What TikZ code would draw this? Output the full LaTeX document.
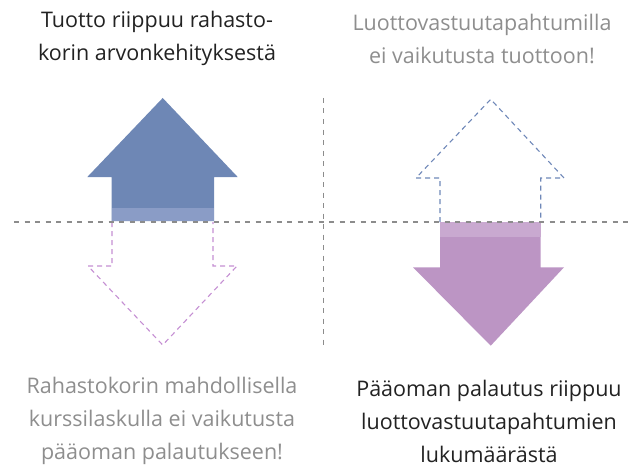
\documentclass[tikz,border=0pt]{standalone}
\usepackage{fontspec}
\setmainfont{Open Sans}
\definecolor{upblue}{HTML}{6E87B5}
\definecolor{upbluel}{HTML}{8A9CC6}
\definecolor{dnpurp}{HTML}{BC95C4}
\definecolor{dnpurpl}{HTML}{C9A9D0}
\definecolor{dashpurp}{HTML}{C58FD3}
\definecolor{dashblue}{HTML}{6F88B8}
\definecolor{axisgrey}{HTML}{8C8C8C}
\definecolor{txtdark}{HTML}{222222}
\definecolor{txtgrey}{HTML}{8E8E8E}
\begin{document}
\begin{tikzpicture}[x=1pt,y=-1pt,
  axis/.style={axisgrey,line width=1.1pt,dash pattern=on 5pt off 5.5pt},
  outl/.style={line width=1.1pt,dash pattern=on 5pt off 4pt},
  lbl/.style={align=center,font=\fontsize{21.5}{33}\selectfont,inner sep=0pt}]
\useasboundingbox (0,0) rectangle (631,468);
% left filled up arrow
\fill[upblue] (162.7,98) -- (237.7,177) -- (214,177) -- (214,221) -- (111.7,221) -- (111.7,177) -- (87.3,177) -- cycle;
\fill[upbluel] (111.7,207.5) rectangle (214,221);
% left dashed down arrow
\draw[outl,dashpurp] (112,222) -- (112,266) -- (88,266) -- (162.7,345) -- (237,266) -- (213,266) -- (213,222);
% right dashed up arrow
\draw[outl,dashblue] (440,222) -- (440,178) -- (416,178) -- (490.7,99.3) -- (564,178) -- (540.7,178) -- (540.7,222);
% right filled down arrow
\fill[dnpurp] (440,222) -- (540.7,222) -- (540.7,267.3) -- (564,267.3) -- (490.7,345.7) -- (413,267.3) -- (440,267.3) -- cycle;
\fill[dnpurpl] (440,222) rectangle (540.7,236.7);
% axes
\coordinate (hl) at (14,222);
\coordinate (hr) at (631,222);
\coordinate (vt) at (323.7,98);
\coordinate (vb) at (323.7,347);
\draw[axis] (hl) -- (hr);
\draw[axis] (vt) -- (vb);
% labels
\node[lbl,txtdark] (tl) at (157,38.5) {Tuotto riippuu rahasto-\\korin arvonkehityksestä};
\node[lbl,txtgrey] (tr) at (482,38.5) {Luottovastuutapahtumilla\\ei vaikutusta tuottoon!};
\node[lbl,txtgrey] (bl) at (162,421) {Rahastokorin mahdollisella\\kurssilaskulla ei vaikutusta\\pääoman palautukseen!};
\node[lbl,txtdark] (br) at (489,421) {Pääoman palautus riippuu\\luottovastuutapahtumien\\lukumäärästä};
\end{tikzpicture}
\end{document}
